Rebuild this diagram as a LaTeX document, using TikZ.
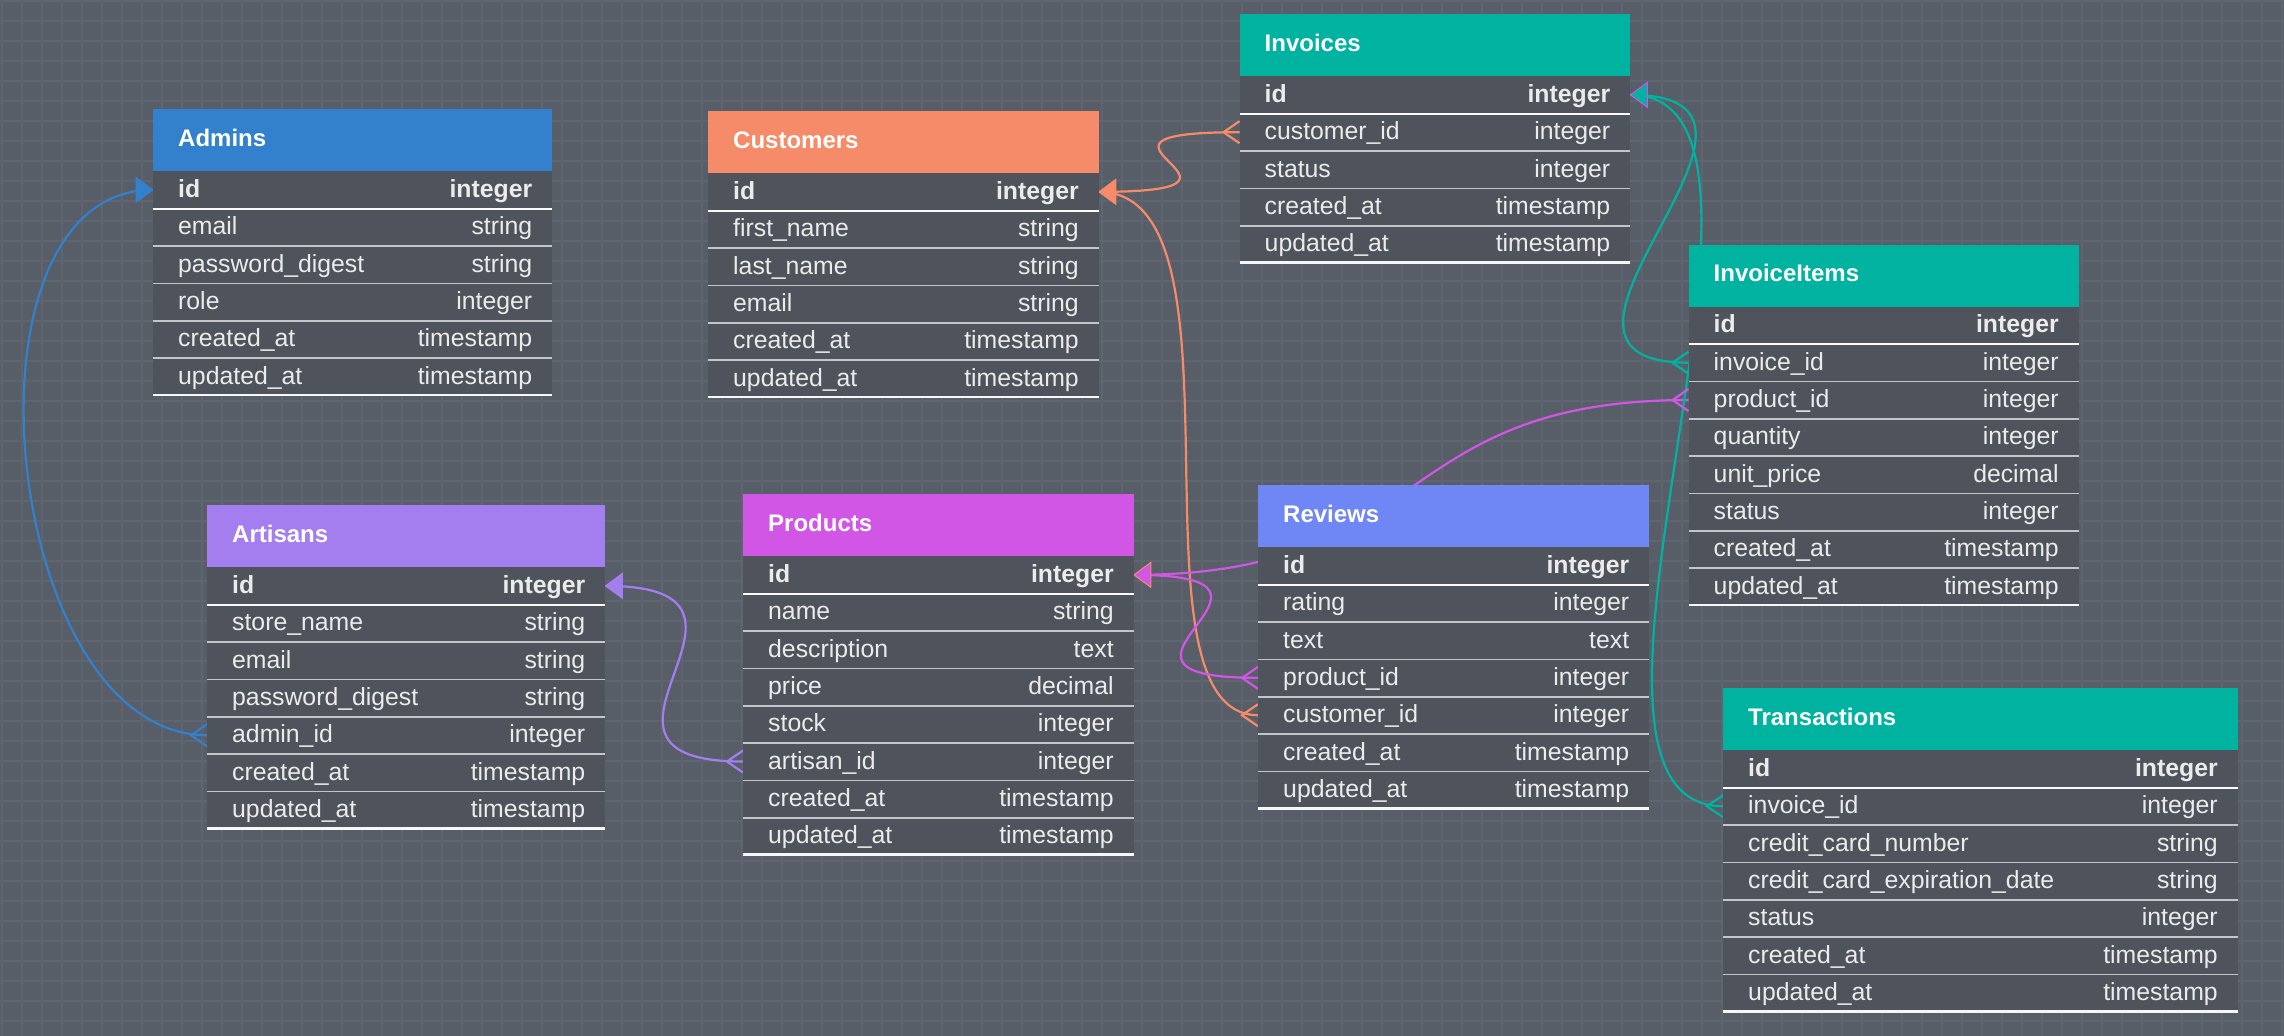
\documentclass[tikz,border=0pt]{standalone}
\usepackage{fontspec}
\setmainfont{Liberation Sans}
\usetikzlibrary{calc}
\pgfdeclarelayer{gridlayer}
\pgfdeclarelayer{edgelayer}
\pgfsetlayers{gridlayer,edgelayer,main}

\definecolor{bgc}{HTML}{575E68}
\definecolor{gridc}{HTML}{5E6570}
\definecolor{bodyc}{HTML}{4F545C}
\definecolor{sepc}{HTML}{C2C5CA}
\definecolor{txtc}{HTML}{EBEBEB}
\definecolor{cblue}{HTML}{3380CC}
\definecolor{corange}{HTML}{F58B68}
\definecolor{cteal}{HTML}{00B2A0}
\definecolor{cpurple}{HTML}{A47DEE}
\definecolor{cmagenta}{HTML}{D156E5}
\definecolor{cperi}{HTML}{6F86F5}

\tikzset{
  hdrbox/.style={rectangle, inner sep=0, minimum height=62pt, draw=none},
  rowbox/.style={rectangle, inner sep=0, minimum height=37.333pt, fill=bodyc},
  titletext/.style={inner sep=0, text=white, font=\fontsize{24}{28}\selectfont\bfseries},
  fieldtext/.style={inner sep=0, text=txtc, font=\fontsize{24.8}{28}\selectfont},
  sepline/.style={draw=sepc, line width=1.6pt},
  firstsep/.style={draw=white!92!sepc, line width=1.8pt},
  endline/.style={draw=white!94!gray, line width=2.6pt},
  conn/.style={line width=2.2pt},
}

% #1 id, #2 left, #3 top, #4 width, #5 colour, #6 title, #7 number of rows, #8 rows
\newcommand{\ertable}[8]{%
  \node[hdrbox, fill=#5, minimum width=#4pt, anchor=north west] (#1) at (#2,#3) {};
  \node[titletext, anchor=base west] (#1-title) at ([xshift=25pt,yshift=-6pt]#1.west) {#6};
  \foreach \fkey/\flabel/\ftype [count=\rowi] in {#8} {
    \node[rowbox, minimum width=#4pt, anchor=north west] (#1-\fkey) at (#2, {#3+62+(\rowi-1)*37.333}) {};
    \node[fieldtext, anchor=base west] (#1-\fkey-name) at ([xshift=25pt, yshift=-7.5pt]#1-\fkey.west) {\ifnum\rowi=1 \bfseries\fi\flabel};
    \node[fieldtext, anchor=base east] (#1-\fkey-type) at ([xshift=-20pt, yshift=-7.5pt]#1-\fkey.east) {\ifnum\rowi=1 \bfseries\fi\ftype};
  }
  \foreach \fkey/\flabel/\ftype [count=\rowi] in {#8} {
    \ifnum\rowi=1
      \draw[firstsep] (#1-\fkey.south west) -- (#1-\fkey.south east);
    \else
      \draw[sepline] (#1-\fkey.south west) -- (#1-\fkey.south east);
    \fi
  }
  \draw[endline] (#2, {#3+62+#7*37.333}) -- ({#2+#4}, {#3+62+#7*37.333});
}

% crow's foot: #1 point, #2 apex offset, #3 colour
\newcommand{\manytip}[3]{%
  \draw[conn, #3, line join=miter] ([yshift=11pt]#1) -- ([xshift=#2pt]#1) -- ([yshift=-11pt]#1);
}
% one end arrow: #1 point, #2 base offset, #3 fill, #4 outline
\newcommand{\onetip}[4]{%
  \filldraw[fill=#3, draw=#4, line width=1pt, line join=miter] (#1) -- ([xshift=#2pt,yshift=12.5pt]#1) -- ([xshift=#2pt,yshift=-12.5pt]#1) -- cycle;
}

\begin{document}
\begin{tikzpicture}[x=1pt, y=-1pt]
\useasboundingbox (0,0) rectangle (2284,1036);

\begin{pgfonlayer}{gridlayer}
  \fill[bgc] (0,0) rectangle (2284,1036);
  \foreach \gx in {2,22,...,2282} \draw[gridc, line width=2pt] (\gx,0) -- (\gx,1036);
  \foreach \gy in {1,21,...,1035} \draw[gridc, line width=2pt] (0,\gy) -- (2284,\gy);
\end{pgfonlayer}

\ertable{admins}{153}{109}{399}{cblue}{Admins}{6}{id/id/integer, email/email/string, passworddigest/password\_digest/string, role/role/integer, createdat/created\_at/timestamp, updatedat/updated\_at/timestamp}

\ertable{customers}{708}{111}{390.5}{corange}{Customers}{6}{id/id/integer, firstname/first\_name/string, lastname/last\_name/string, email/email/string, createdat/created\_at/timestamp, updatedat/updated\_at/timestamp}

\ertable{invoices}{1239.5}{14}{390.5}{cteal}{Invoices}{5}{id/id/integer, customerid/customer\_id/integer, status/status/integer, createdat/created\_at/timestamp, updatedat/updated\_at/timestamp}

\ertable{invoiceitems}{1688.5}{244.5}{390}{cteal}{InvoiceItems}{8}{id/id/integer, invoiceid/invoice\_id/integer, productid/product\_id/integer, quantity/quantity/integer, unitprice/unit\_price/decimal, status/status/integer, createdat/created\_at/timestamp, updatedat/updated\_at/timestamp}

\ertable{artisans}{207}{505}{398}{cpurple}{Artisans}{7}{id/id/integer, storename/store\_name/string, email/email/string, passworddigest/password\_digest/string, adminid/admin\_id/integer, createdat/created\_at/timestamp, updatedat/updated\_at/timestamp}

\ertable{products}{743}{494}{390.5}{cmagenta}{Products}{8}{id/id/integer, name/name/string, description/description/text, price/price/decimal, stock/stock/integer, artisanid/artisan\_id/integer, createdat/created\_at/timestamp, updatedat/updated\_at/timestamp}

\ertable{reviews}{1258}{485}{391}{cperi}{Reviews}{7}{id/id/integer, rating/rating/integer, text/text/text, productid/product\_id/integer, customerid/customer\_id/integer, createdat/created\_at/timestamp, updatedat/updated\_at/timestamp}

\ertable{transactions}{1723}{688}{514.5}{cteal}{Transactions}{7}{id/id/integer, invoiceid/invoice\_id/integer, ccnumber/credit\_card\_number/string, ccexp/credit\_card\_expiration\_date/string, status/status/integer, createdat/created\_at/timestamp, updatedat/updated\_at/timestamp}

\begin{pgfonlayer}{edgelayer}
  % curves
  \draw[conn, cblue] (artisans-adminid.west) .. controls +(-205,0) and +(-205,0) .. (admins-id.west);
  \draw[conn, corange] (invoices-customerid.west) .. controls +(-200,0) and +(200,0) .. (customers-id.east);
  \draw[conn, corange] (reviews-customerid.west) .. controls +(-140,0) and +(160,0) .. (customers-id.east);
  \draw[conn, cmagenta] (reviews-productid.west) .. controls +(-200,0) and +(200,0) .. (products-id.east);
  \draw[conn, cmagenta] (invoiceitems-productid.west) .. controls +(-300,0) and +(300,0) .. (products-id.east);
  \draw[conn, cteal] (invoiceitems-invoiceid.west) .. controls +(-200,0) and +(200,0) .. (invoices-id.east);
  \draw[conn, cteal] (transactions-invoiceid.west) .. controls +(-200,0) and +(200,0) .. (invoices-id.east);
  \draw[conn, cpurple] (products-artisanid.west) .. controls +(-200,0) and +(200,0) .. (artisans-id.east);
  % many ends
  \manytip{artisans-adminid.west}{-16}{cblue}
  \manytip{invoices-customerid.west}{-16}{corange}
  \manytip{reviews-customerid.west}{-16}{corange}
  \manytip{reviews-productid.west}{-16}{cmagenta}
  \manytip{invoiceitems-productid.west}{-16}{cmagenta}
  \manytip{invoiceitems-invoiceid.west}{-16}{cteal}
  \manytip{transactions-invoiceid.west}{-16}{cteal}
  \manytip{products-artisanid.west}{-16}{cpurple}
  % one ends
  \onetip{admins-id.west}{-17}{cblue}{cblue}
  \onetip{customers-id.east}{17}{corange}{corange}
  \onetip{products-id.east}{17}{cmagenta}{corange}
  \onetip{invoices-id.east}{17}{cteal}{cmagenta}
  \onetip{artisans-id.east}{17}{cpurple}{cpurple}
\end{pgfonlayer}
\end{tikzpicture}
\end{document}
